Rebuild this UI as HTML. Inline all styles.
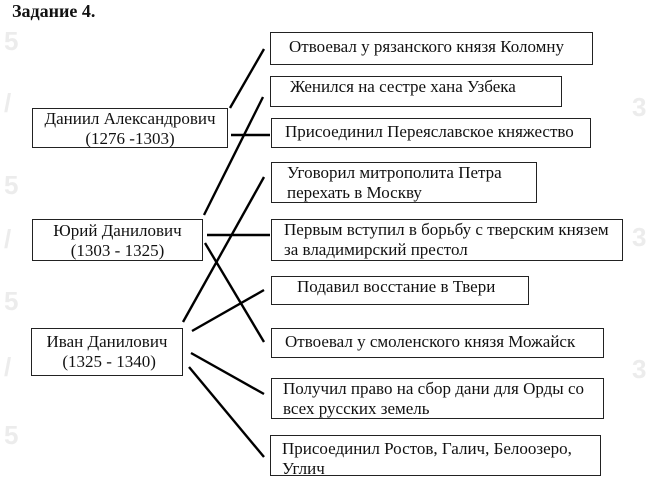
<!DOCTYPE html>
<html><head><meta charset="utf-8"><style>
html,body{margin:0;padding:0;background:#fff;}
body{width:649px;height:484px;position:relative;overflow:hidden;font-family:"Liberation Serif","DejaVu Serif",serif;color:#111;}
.b{position:absolute;border:1px solid #222;box-sizing:border-box;font-size:17px;line-height:20px;white-space:nowrap;}
.t{position:absolute;left:12px;top:1px;font-weight:bold;font-size:18px;font-family:"Liberation Serif",serif;}
.w{position:absolute;color:#ececec;font-family:"Liberation Sans",sans-serif;font-size:26px;font-weight:bold;}
svg{position:absolute;left:0;top:0;}
</style></head><body>
<div class="w" style="left:4px;top:26px">5</div>
<div class="w" style="left:4px;top:88px">/</div>
<div class="w" style="left:4px;top:170px">5</div>
<div class="w" style="left:4px;top:224px">/</div>
<div class="w" style="left:4px;top:286px">5</div>
<div class="w" style="left:4px;top:352px">/</div>
<div class="w" style="left:4px;top:420px">5</div>
<div class="w" style="left:632px;top:92px">3</div>
<div class="w" style="left:632px;top:222px">3</div>
<div class="w" style="left:632px;top:354px">3</div>
<div class="t">Задание 4.</div>

<div class="b" style="left:32px;top:108px;width:196px;height:40px;text-align:center;padding-top:0px">Даниил Александрович<br>(1276 -1303)</div>
<div class="b" style="left:32px;top:219px;width:171px;height:42px;text-align:center;padding-top:1px">Юрий Данилович<br>(1303 - 1325)</div>
<div class="b" style="left:31px;top:328px;width:152px;height:48px;text-align:center;padding-top:3px">Иван Данилович<br>&nbsp;(1325 - 1340)</div>

<div class="b" style="left:270px;top:32px;width:323px;height:33px;padding:4px 0 0 18px">Отвоевал у рязанского князя Коломну</div>
<div class="b" style="left:270px;top:76px;width:292px;height:31px;padding:0 0 0 19px">Женился на сестре хана Узбека</div>
<div class="b" style="left:271px;top:118px;width:320px;height:30px;padding:3px 0 0 13px">Присоединил Переяславское княжество</div>
<div class="b" style="left:271px;top:162px;width:266px;height:41px;padding:0 0 0 15px">Уговорил митрополита Петра<br>перехать в Москву</div>
<div class="b" style="left:271px;top:219px;width:352px;height:42px;padding:0 0 0 12px">Первым вступил в борьбу с тверским князем<br>за владимирский престол</div>
<div class="b" style="left:271px;top:276px;width:258px;height:29px;padding:0 0 0 25px">Подавил восстание в Твери</div>
<div class="b" style="left:271px;top:328px;width:333px;height:30px;padding:3px 0 0 13px">Отвоевал у смоленского князя Можайск</div>
<div class="b" style="left:271px;top:378px;width:333px;height:41px;padding:0 0 0 11px">Получил право на сбор дани для Орды со<br>всех русских земель</div>
<div class="b" style="left:270px;top:435px;width:331px;height:41px;padding:3px 0 0 11px">Присоединил Ростов, Галич, Белоозеро,<br>Углич</div>

<svg width="649" height="484" stroke="#000" stroke-width="2.4" fill="none">
<line x1="230" y1="108" x2="264" y2="49"/>
<line x1="231" y1="135" x2="270" y2="135"/>
<line x1="204" y1="215" x2="263" y2="97"/>
<line x1="207" y1="235" x2="270" y2="235"/>
<line x1="205" y1="243" x2="264" y2="342"/>
<line x1="183" y1="322" x2="264" y2="177"/>
<line x1="192" y1="331" x2="264" y2="290"/>
<line x1="191" y1="353" x2="264" y2="394"/>
<line x1="189" y1="367" x2="264" y2="457"/>
</svg>
</body></html>
